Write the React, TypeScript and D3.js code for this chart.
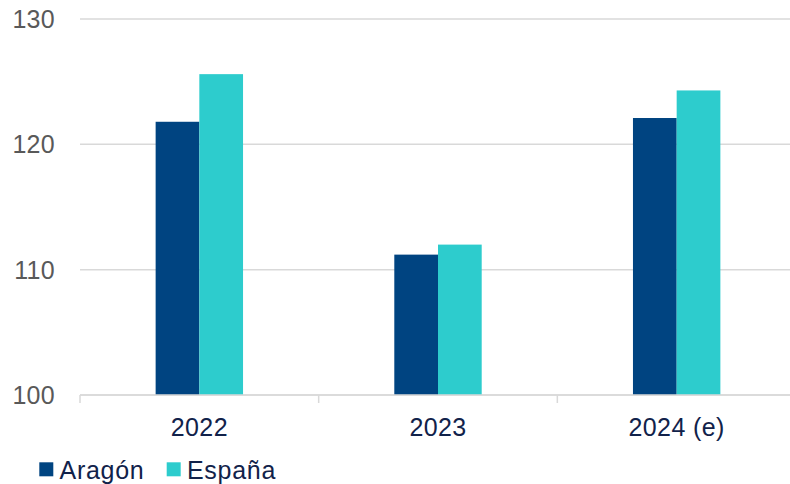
import React from "react";
import * as d3 from "d3";

const categories = ["2022", "2023", "2024 (e)"];
const seriesNames = ["Aragón", "España"];
const aragon = [121.8, 111.2, 122.1];
const espana = [125.6, 112.0, 124.3];
const yTicks = [100, 110, 120, 130];

const colors = ["#004481", "#2dcccd"];

const App: React.FC = () => {
  const width = 790;
  const height = 484;
  const left = 80;
  const right = 796;
  const top = 19;
  const bottom = 395;

  const x = d3.scaleBand<string>().domain(categories).range([left, right]);
  const y = d3.scaleLinear().domain([100, 130]).range([bottom, top]);
  const barW = 43.7;

  const series = [aragon, espana];
  const font = "Arial, 'Liberation Sans', sans-serif";

  return (
    <svg
      width={width}
      height={height}
      style={{ position: "absolute", left: 0, top: 0, background: "#fff" }}
    >
      {yTicks.map((t) => (
        <g key={t}>
          <line
            x1={left}
            x2={width}
            y1={y(t)}
            y2={y(t)}
            stroke="#d9d9d9"
            strokeWidth={1.5}
          />
          <text
            x={55}
            y={y(t)}
            dy="0.36em"
            textAnchor="end"
            fontFamily={font}
            fontSize={25}
            letterSpacing={0.3}
            fill="#595959"
          >
            {t}
          </text>
        </g>
      ))}

      {categories.map((c, i) => {
        const cx = (x(c) as number) + x.bandwidth() / 2;
        return (
          <g key={c}>
            {series.map((s, j) => (
              <rect
                key={j}
                x={cx - barW + j * barW}
                y={y(s[i])}
                width={barW}
                height={bottom - y(s[i])}
                fill={colors[j]}
              />
            ))}
            <text
              x={cx}
              y={436}
              textAnchor="middle"
              fontFamily={font}
              fontSize={25}
              letterSpacing={0.4}
              fill="#11224a"
            >
              {c}
            </text>
          </g>
        );
      })}

      <line x1={left} x2={width} y1={bottom} y2={bottom} stroke="#d9d9d9" strokeWidth={1.5} />
      {[0, 1, 2, 3].map((k) => {
        const tx = left + k * x.bandwidth();
        return (
          <line
            key={k}
            x1={tx}
            x2={tx}
            y1={bottom}
            y2={403}
            stroke="#d9d9d9"
            strokeWidth={1.5}
          />
        );
      })}

      {seriesNames.map((n, j) => {
        const lx = j === 0 ? 39.3 : 166.7;
        return (
          <g key={n}>
            <rect x={lx} y={462.3} width={14} height={14} fill={colors[j]} />
            <text
              x={lx + 20.3}
              y={478.5}
              fontFamily={font}
              fontSize={25}
              letterSpacing={0.7}
              fill="#11224a"
            >
              {n}
            </text>
          </g>
        );
      })}
    </svg>
  );
};

export default App;
